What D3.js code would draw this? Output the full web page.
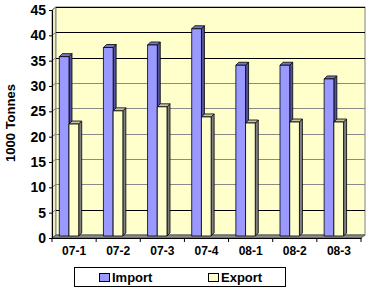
<!DOCTYPE html>
<html>
<head>
<meta charset="utf-8">
<script src="https://cdn.jsdelivr.net/npm/d3@7"></script>
<style>
  body { margin: 0; background: #fff; }
  svg { display: block; font-family: "Liberation Sans", Arial, sans-serif; font-weight: bold; }
</style>
</head>
<body>
<div id="chart"></div>
<script>
  const categories = ["07-1", "07-2", "07-3", "07-4", "08-1", "08-2", "08-3"];
  const seriesNames = ["Import", "Export"];
  const importVals = [35.4, 37.2, 37.7, 40.9, 33.7, 33.7, 31.0];
  const exportVals = [22.1, 24.7, 25.5, 23.5, 22.3, 22.5, 22.5];
  const yTicks = [0, 5, 10, 15, 20, 25, 30, 35, 40, 45];

  const W = 369, H = 288;
  const DX = 4, DY = -3;     // wall depth
  const BX = 3, BY = -3;     // bar depth
  const BAR_SHIFT = -2;      // bars sit a bit back on the floor

  const faces = {
    Import: { front: "#9999FF", side: "#52529E", top: "#7676C8" },
    Export: { front: "#FFFFCC", side: "#808080", top: "#C4C4A8" }
  };

  const svg = d3.select("#chart").append("svg")
    .attr("width", W).attr("height", H);

  const x = d3.scaleBand().domain(categories).range([52, 361]);
  const y = d3.scaleLinear().domain([0, 45]).range([238, 10]);
  const inner = d3.scaleBand().domain(seriesNames)
    .range([x.bandwidth() * 0.165, x.bandwidth() * 0.605]);

  const x0 = 52, x1 = 361, y0 = y(0), yTop = y(45);

  // side wall
  svg.append("path")
    .attr("d", `M${x0},${y0}L${x0 + DX},${y0 + DY}L${x0 + DX},${yTop + DY}L${x0},${yTop}Z`)
    .attr("fill", "#EEEEC4").attr("stroke", "#808080").attr("stroke-width", 1);

  // back wall
  svg.append("rect")
    .attr("x", x0 + DX).attr("y", yTop + DY)
    .attr("width", x1 - x0).attr("height", y0 - yTop)
    .attr("fill", "#FFFFCC").attr("stroke", "#808080");

  // floor
  svg.append("path")
    .attr("d", `M${x0},${y0}L${x1},${y0}L${x1 + DX},${y0 + DY}L${x0 + DX},${y0 + DY}Z`)
    .attr("fill", "#8C8C8C").attr("stroke", "#555");

  // gridlines (some render black, some gray)
  const gridColor = v => (v >= 35 || v === 5) ? "#000" : "#8a8a8a";
  yTicks.filter(v => v > 0).forEach(v => {
    const yy = Math.round(y(v) + DY) + 0.5;
    svg.append("line")
      .attr("x1", x0 + DX).attr("x2", x1 + DX)
      .attr("y1", yy).attr("y2", yy)
      .attr("stroke", gridColor(v)).attr("stroke-width", 1);
    svg.append("line")
      .attr("x1", x0).attr("x2", x0 + DX)
      .attr("y1", y(v)).attr("y2", y(v) + DY)
      .attr("stroke", "#808080");
  });

  // bars
  const barData = categories.flatMap((c, i) => [
    { cat: c, s: "Import", v: importVals[i] },
    { cat: c, s: "Export", v: exportVals[i] }
  ]);

  const bw = inner.bandwidth();
  const base = y(0) + BAR_SHIFT;
  barData.forEach(d => {
    const bx = x(d.cat) + inner(d.s);
    const top = y(d.v) + BAR_SHIFT;
    const f = faces[d.s];
    const g = svg.append("g").attr("stroke", "#000").attr("stroke-width", 0.8)
      .attr("stroke-linejoin", "round");
    g.append("path")
      .attr("d", `M${bx + bw},${base}L${bx + bw + BX},${base + BY}L${bx + bw + BX},${top + BY}L${bx + bw},${top}Z`)
      .attr("fill", f.side);
    g.append("path")
      .attr("d", `M${bx},${top}L${bx + BX},${top + BY}L${bx + bw + BX},${top + BY}L${bx + bw},${top}Z`)
      .attr("fill", f.top);
    g.append("rect")
      .attr("x", bx).attr("y", top).attr("width", bw).attr("height", base - top)
      .attr("fill", f.front);
  });

  // y axis
  const yAxis = svg.append("g").attr("transform", `translate(${x0},0)`)
    .call(d3.axisLeft(y).tickValues(yTicks).tickSize(3).tickPadding(3));
  yAxis.select(".domain").attr("stroke", "#000");
  yAxis.selectAll("text").attr("font-size", 14).attr("font-weight", "bold")
    .attr("font-family", "Liberation Sans, Arial, sans-serif").attr("fill", "#000");

  // x axis
  const xAxis = svg.append("g").attr("transform", `translate(0,${y0})`)
    .call(d3.axisBottom(x).tickSize(0).tickPadding(8));
  xAxis.select(".domain").attr("stroke", "#000");
  xAxis.selectAll("text").attr("font-size", 12).attr("font-weight", "bold")
    .attr("font-family", "Liberation Sans, Arial, sans-serif").attr("fill", "#000");
  svg.append("g").selectAll("line")
    .data(d3.range(categories.length + 1))
    .join("line")
    .attr("x1", i => x0 + i * x.step()).attr("x2", i => x0 + i * x.step())
    .attr("y1", y0).attr("y2", y0 + 4)
    .attr("stroke", "#000");

  // y title
  svg.append("text")
    .attr("transform", "translate(15,123) rotate(-90)")
    .attr("text-anchor", "middle")
    .attr("font-size", 13)
    .text("1000 Tonnes");

  // legend
  const leg = svg.append("g");
  leg.append("rect")
    .attr("x", 74.5).attr("y", 267.5).attr("width", 211).attr("height", 19)
    .attr("fill", "#fff").attr("stroke", "#000");
  const legX = [99, 208];
  seriesNames.forEach((s, i) => {
    leg.append("rect")
      .attr("x", legX[i] + 0.5).attr("y", 273.5).attr("width", 10).attr("height", 8)
      .attr("fill", faces[s].front).attr("stroke", "#000");
    leg.append("text")
      .attr("x", legX[i] + 13).attr("y", 282)
      .attr("font-size", 13)
      .text(s);
  });
</script>
</body>
</html>
